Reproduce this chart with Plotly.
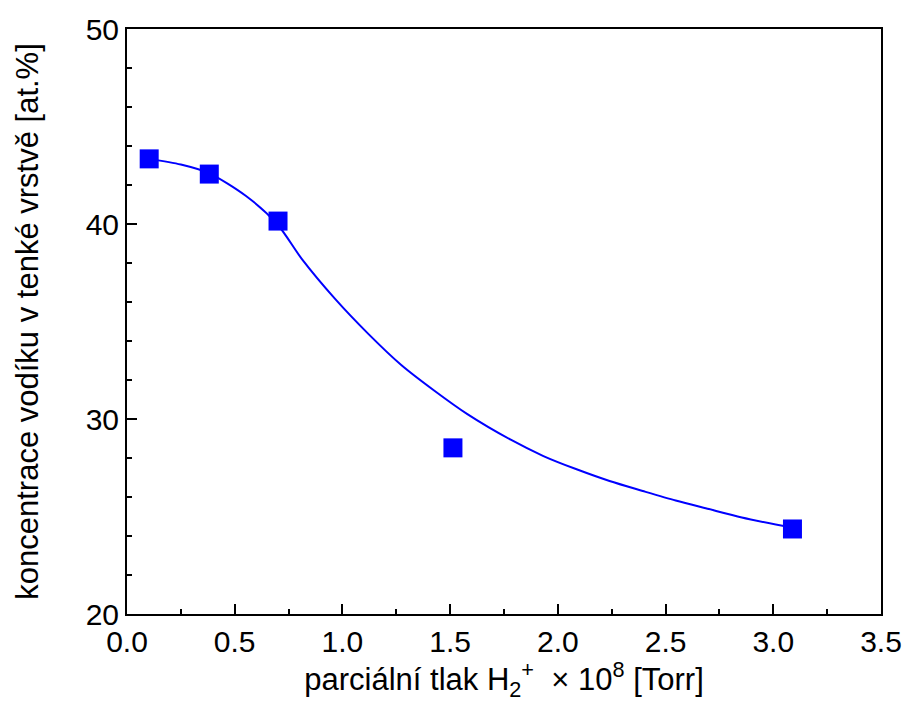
import plotly.graph_objects as go

# measured data points
pressure = [0.103, 0.382, 0.701, 1.513, 3.089]
hydrogen = [43.34, 42.56, 40.15, 28.52, 24.36]

# fitted curve
curve_x = [0.103, 0.25, 0.382, 0.551, 0.697, 0.812, 0.966, 1.119, 1.273, 1.427,
           1.580, 1.779, 1.933, 2.087, 2.240, 2.394, 2.547, 2.701, 2.854, 3.089]
curve_y = [43.34, 43.05, 42.60, 41.45, 40.00, 38.20, 36.16, 34.38, 32.77, 31.45,
           30.25, 28.95, 28.10, 27.42, 26.82, 26.31, 25.82, 25.38, 24.95, 24.42]

x_ticks = [0.0, 0.5, 1.0, 1.5, 2.0, 2.5, 3.0, 3.5]
y_ticks = [20, 30, 40, 50]

font = "Liberation Sans, Arial, sans-serif"

fig = go.Figure()
fig.add_trace(go.Scatter(x=curve_x, y=curve_y, mode="lines",
                         line=dict(color="#0000FF", width=2, shape="spline", smoothing=0.8),
                         showlegend=False, hoverinfo="skip"))
fig.add_trace(go.Scatter(x=pressure, y=hydrogen, mode="markers",
                         marker=dict(symbol="square", size=19, color="#0000FF"),
                         showlegend=False))

axis_common = dict(showgrid=False, zeroline=False, showline=True, linecolor="black",
                   linewidth=2, mirror=True, ticks="inside", ticklen=10, tickwidth=2,
                   tickcolor="black", tickfont=dict(family=font, size=30, color="black"))

fig.update_xaxes(range=[0, 3.5], tickvals=x_ticks,
                 ticktext=[f"{v:.1f}" for v in x_ticks],
                 minor=dict(dtick=0.25, ticks="inside", ticklen=5, tickwidth=2, tickcolor="black"),
                 title=dict(text="parciální tlak H<sub>2</sub><sup>+</sup>  × 10<sup>8</sup> [Torr]",
                            font=dict(family=font, size=31, color="black"), standoff=2),
                 **axis_common)
fig.update_yaxes(range=[20, 50], tickvals=y_ticks,
                 minor=dict(dtick=2, ticks="inside", ticklen=5, tickwidth=2, tickcolor="black"),
                 title=dict(text="koncentrace vodíku v tenké vrstvě [at.%]",
                            font=dict(family=font, size=31, color="black"), standoff=38),
                 **axis_common)

fig.update_layout(width=914, height=702, margin=dict(l=127, r=26, t=25, b=88),
                  plot_bgcolor="white", paper_bgcolor="white",
                  font=dict(family=font, color="black"))

fig.write_html("out.html")
